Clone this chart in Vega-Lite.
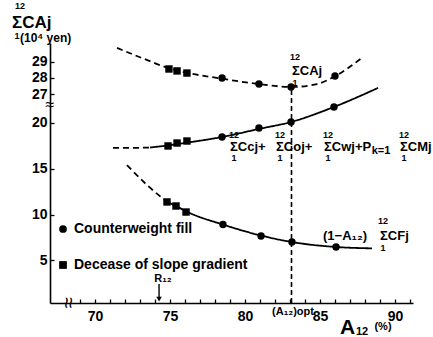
{
  "$schema": "https://vega.github.io/schema/vega-lite/v6.json",
  "width": 363,
  "height": 260,
  "autosize": {"type": "none"},
  "padding": {"left": 50, "top": 43, "right": 20, "bottom": 34},
  "background": "#ffffff",
  "config": {
    "view": {"stroke": null},
    "font": "Liberation Sans",
    "axis": {"domainColor": "#000", "domainWidth": 1.6, "tickColor": "#000", "tickWidth": 1.3, "labelColor": "#000", "labelFont": "Liberation Sans", "labelFontSize": 14, "labelFontWeight": "bold", "grid": false},
    "text": {"font": "Liberation Sans", "fontWeight": "bold", "color": "#000"}
  },
  "datasets": {
    "curves": [
      {"curve": "A", "kind": "estimated", "x": 71.47, "y": 29.85},
      {"curve": "A", "kind": "estimated", "x": 73.2, "y": 29.2},
      {"curve": "A", "kind": "estimated", "x": 74.93, "y": 28.6},
      {"curve": "A", "kind": "estimated", "x": 76.13, "y": 28.32},
      {"curve": "A", "kind": "estimated", "x": 78.47, "y": 27.95},
      {"curve": "A", "kind": "estimated", "x": 80.93, "y": 27.62},
      {"curve": "A", "kind": "estimated", "x": 83.07, "y": 27.44},
      {"curve": "A", "kind": "estimated", "x": 84.8, "y": 27.62},
      {"curve": "A", "kind": "estimated", "x": 86.0, "y": 28.1},
      {"curve": "A", "kind": "estimated", "x": 87.87, "y": 29.29},
      {"curve": "M", "kind": "estimated", "x": 71.2, "y": 17.27},
      {"curve": "M", "kind": "estimated", "x": 72.5, "y": 17.28},
      {"curve": "M", "kind": "estimated", "x": 73.67, "y": 17.32},
      {"curve": "M", "kind": "fitted", "x": 73.67, "y": 17.32},
      {"curve": "M", "kind": "fitted", "x": 74.87, "y": 17.55},
      {"curve": "M", "kind": "fitted", "x": 76.13, "y": 17.85},
      {"curve": "M", "kind": "fitted", "x": 78.47, "y": 18.47},
      {"curve": "M", "kind": "fitted", "x": 80.93, "y": 19.35},
      {"curve": "M", "kind": "fitted", "x": 83.07, "y": 20.11},
      {"curve": "M", "kind": "fitted", "x": 85.93, "y": 21.75},
      {"curve": "M", "kind": "fitted", "x": 88.87, "y": 23.83},
      {"curve": "F", "kind": "estimated", "x": 72.13, "y": 15.4},
      {"curve": "F", "kind": "estimated", "x": 73.47, "y": 13.22},
      {"curve": "F", "kind": "estimated", "x": 74.8, "y": 11.37},
      {"curve": "F", "kind": "fitted", "x": 74.8, "y": 11.37},
      {"curve": "F", "kind": "fitted", "x": 75.4, "y": 10.93},
      {"curve": "F", "kind": "fitted", "x": 76.07, "y": 10.35},
      {"curve": "F", "kind": "fitted", "x": 78.53, "y": 8.9},
      {"curve": "F", "kind": "fitted", "x": 81.07, "y": 7.7},
      {"curve": "F", "kind": "fitted", "x": 83.13, "y": 6.99},
      {"curve": "F", "kind": "fitted", "x": 86.07, "y": 6.45},
      {"curve": "F", "kind": "fitted", "x": 88.47, "y": 6.3}
    ],
    "points": [
      {"curve": "A", "method": "Decease of slope gradient", "x": 74.93, "y": 28.55},
      {"curve": "A", "method": "Decease of slope gradient", "x": 75.47, "y": 28.43},
      {"curve": "A", "method": "Decease of slope gradient", "x": 76.13, "y": 28.3},
      {"curve": "A", "method": "Counterweight fill", "x": 78.47, "y": 27.99},
      {"curve": "A", "method": "Counterweight fill", "x": 80.93, "y": 27.62},
      {"curve": "A", "method": "Counterweight fill", "x": 83.07, "y": 27.44},
      {"curve": "A", "method": "Counterweight fill", "x": 86.0, "y": 28.12},
      {"curve": "M", "method": "Decease of slope gradient", "x": 74.87, "y": 17.49},
      {"curve": "M", "method": "Decease of slope gradient", "x": 75.47, "y": 17.81},
      {"curve": "M", "method": "Decease of slope gradient", "x": 76.13, "y": 18.03},
      {"curve": "M", "method": "Counterweight fill", "x": 78.47, "y": 18.47},
      {"curve": "M", "method": "Counterweight fill", "x": 80.93, "y": 19.45},
      {"curve": "M", "method": "Counterweight fill", "x": 83.07, "y": 20.11},
      {"curve": "M", "method": "Counterweight fill", "x": 85.93, "y": 21.75},
      {"curve": "F", "method": "Decease of slope gradient", "x": 74.8, "y": 11.37},
      {"curve": "F", "method": "Decease of slope gradient", "x": 75.4, "y": 10.93},
      {"curve": "F", "method": "Decease of slope gradient", "x": 76.07, "y": 10.27},
      {"curve": "F", "method": "Counterweight fill", "x": 78.53, "y": 8.9},
      {"curve": "F", "method": "Counterweight fill", "x": 81.07, "y": 7.65},
      {"curve": "F", "method": "Counterweight fill", "x": 83.13, "y": 6.99},
      {"curve": "F", "method": "Counterweight fill", "x": 86.07, "y": 6.45}
    ],
    "notes": [
      {"role": "title", "t": "ΣCAj", "x": 64.47, "y": 30.93},
      {"role": "main", "t": "ΣCAj", "x": 83.13, "y": 25.65},
      {"role": "main", "t": "ΣCcj+", "x": 79.0, "y": 17.38},
      {"role": "main", "t": "ΣCoj+", "x": 82.07, "y": 17.38},
      {"role": "main", "t": "ΣCwj+P", "x": 85.27, "y": 17.38},
      {"role": "main", "t": "ΣCMj", "x": 90.33, "y": 17.38},
      {"role": "main", "t": "(1−A₁₂)", "x": 85.2, "y": 7.65},
      {"role": "main", "t": "ΣCFj", "x": 89.0, "y": 7.65},
      {"role": "unit", "t": "(10⁴ yen)", "x": 65.0, "y": 29.29},
      {"role": "limit", "t": "12", "x": 65.0, "y": 32.75},
      {"role": "limit", "t": "1", "x": 64.8, "y": 29.55},
      {"role": "limit", "t": "12", "x": 83.33, "y": 27.25},
      {"role": "limit", "t": "1", "x": 83.33, "y": 24.35},
      {"role": "limit", "t": "12", "x": 79.27, "y": 18.65},
      {"role": "limit", "t": "12", "x": 82.33, "y": 18.65},
      {"role": "limit", "t": "12", "x": 85.53, "y": 18.65},
      {"role": "limit", "t": "12", "x": 90.6, "y": 18.65},
      {"role": "limit", "t": "1", "x": 79.27, "y": 16.15},
      {"role": "limit", "t": "1", "x": 82.33, "y": 16.15},
      {"role": "limit", "t": "1", "x": 85.53, "y": 16.15},
      {"role": "limit", "t": "1", "x": 90.6, "y": 16.15},
      {"role": "limit", "t": "12", "x": 89.2, "y": 9.3},
      {"role": "limit", "t": "1", "x": 89.2, "y": 6.35},
      {"role": "note", "t": "k=1", "x": 89.07, "y": 16.94},
      {"role": "note", "t": "R₁₂", "x": 74.53, "y": 2.95},
      {"role": "note", "t": "(A₁₂)opt", "x": 83.2, "y": -0.66},
      {"role": "note", "t": "12", "x": 87.8, "y": -2.85},
      {"role": "note", "t": "(%)", "x": 89.2, "y": -2.3},
      {"role": "axisname", "t": "A", "x": 86.33, "y": -2.4}
    ],
    "breaks": [
      {"axis": "y", "t": "≈", "x": 67.0, "y": 21.97},
      {"axis": "x", "t": "≈", "x": 68.2, "y": 0.33}
    ],
    "opt": [{"x": 83.1, "y": 0.33, "y2": 23.93}],
    "arrow": [{"x": 74.27, "y": 2.4, "y2": 0.75}]
  },
  "encoding": {
    "x": {
      "field": "x", "type": "quantitative", "title": null,
      "scale": {"domain": [67, 91.2], "nice": false, "zero": false},
      "axis": {"values": [69,70,71,72,73,74,75,76,77,78,79,80,81,82,83,84,85,86,87,88,89,90,91], "labelExpr": "datum.value % 5 === 0 ? datum.label : ''", "tickSize": -4, "labelPadding": 10, "labelOverlap": false, "labelFlush": false}
    }
  },
  "layer": [
    {
      "encoding": {
        "y": {"field": "y", "type": "quantitative", "title": null,
          "scale": {"domain": [0.33, 28.74], "nice": false, "zero": false},
          "axis": {"orient": "left", "values": [5, 10, 15, 20], "tickSize": -4, "labelPadding": 7}}
      },
      "layer": [
        {
          "data": {"name": "curves"},
          "transform": [{"filter": "datum.curve !== 'A'"}],
          "mark": {"type": "line", "color": "#000", "strokeWidth": 1.8, "interpolate": "monotone"},
          "encoding": {
            "detail": {"field": "curve"},
            "strokeDash": {"field": "kind", "type": "nominal", "scale": {"domain": ["fitted", "estimated"], "range": [[1, 0], [6, 4]]}, "legend": null}
          }
        },
        {
          "data": {"name": "points"},
          "transform": [{"filter": "datum.curve !== 'A'"}],
          "mark": {"type": "point", "filled": true, "color": "#000", "opacity": 1, "size": 55},
          "encoding": {
            "shape": {"field": "method", "type": "nominal",
              "scale": {"domain": ["Counterweight fill", "Decease of slope gradient"], "range": ["circle", "square"]},
              "legend": {"orient": "none", "legendX": 6, "legendY": 179, "title": null, "labelFont": "Liberation Sans", "labelFontSize": 14, "labelFontWeight": "bold", "labelColor": "#000", "labelLimit": 0, "rowPadding": 22, "symbolSize": 60, "symbolFillColor": "#000", "symbolStrokeColor": "#000"}}
          }
        },
        {
          "data": {"name": "opt"},
          "mark": {"type": "rule", "color": "#000", "strokeWidth": 1.6, "strokeDash": [5, 3]},
          "encoding": {"y2": {"field": "y2"}}
        },
        {
          "data": {"name": "arrow"},
          "mark": {"type": "rule", "color": "#000", "strokeWidth": 1.4},
          "encoding": {"y2": {"field": "y2"}}
        },
        {
          "data": {"name": "arrow"},
          "mark": {"type": "point", "shape": "triangle-down", "filled": true, "color": "#000", "opacity": 1, "size": 30},
          "encoding": {"y": {"field": "y2", "type": "quantitative", "scale": {"domain": [0.33, 28.74], "nice": false, "zero": false}}}
        },
        {
          "data": {"name": "notes"},
          "transform": [{"filter": "datum.role === 'title'"}],
          "mark": {"type": "text", "fontSize": 17, "fontWeight": "bold", "align": "left", "baseline": "middle", "color": "#000"},
          "encoding": {"text": {"field": "t"}}
        },
        {
          "data": {"name": "notes"},
          "transform": [{"filter": "datum.role === 'main'"}],
          "mark": {"type": "text", "fontSize": 13, "fontWeight": "bold", "align": "left", "baseline": "middle", "color": "#000"},
          "encoding": {"text": {"field": "t"}}
        },
        {
          "data": {"name": "notes"},
          "transform": [{"filter": "datum.role === 'unit'"}],
          "mark": {"type": "text", "fontSize": 12, "fontWeight": "bold", "align": "left", "baseline": "middle", "color": "#000"},
          "encoding": {"text": {"field": "t"}}
        },
        {
          "data": {"name": "notes"},
          "transform": [{"filter": "datum.role === 'limit'"}],
          "mark": {"type": "text", "fontSize": 9, "fontWeight": "bold", "align": "center", "baseline": "middle", "color": "#000"},
          "encoding": {"text": {"field": "t"}}
        },
        {
          "data": {"name": "notes"},
          "transform": [{"filter": "datum.role === 'note'"}],
          "mark": {"type": "text", "fontSize": 11, "fontWeight": "bold", "align": "center", "baseline": "middle", "color": "#000"},
          "encoding": {"text": {"field": "t"}}
        },
        {
          "data": {"name": "notes"},
          "transform": [{"filter": "datum.role === 'axisname'"}],
          "mark": {"type": "text", "fontSize": 21, "fontWeight": "bold", "align": "left", "baseline": "middle", "color": "#000"},
          "encoding": {"text": {"field": "t"}}
        },
        {
          "data": {"name": "breaks"},
          "transform": [{"filter": "datum.axis === 'y'"}],
          "mark": {"type": "text", "fontSize": 16, "fontWeight": "normal", "align": "center", "baseline": "middle", "color": "#000"},
          "encoding": {"text": {"field": "t"}}
        },
        {
          "data": {"name": "breaks"},
          "transform": [{"filter": "datum.axis === 'x'"}],
          "mark": {"type": "text", "fontSize": 20, "fontWeight": "normal", "angle": 90, "align": "center", "baseline": "middle", "color": "#000"},
          "encoding": {"text": {"field": "t"}}
        }
      ]
    },
    {
      "data": {"name": "curves"},
      "transform": [{"filter": "datum.curve === 'A'"}],
      "encoding": {
        "y": {"field": "y", "type": "quantitative", "title": null,
          "scale": {"domain": [14.105, 30.154], "nice": false, "zero": false},
          "axis": {"orient": "left", "values": [27, 28, 29], "domain": false, "tickSize": -4, "labelPadding": 7}}
      },
      "layer": [
        {
          "mark": {"type": "line", "color": "#000", "strokeWidth": 1.8, "interpolate": "monotone"},
          "encoding": {
            "detail": {"field": "curve"},
            "strokeDash": {"field": "kind", "type": "nominal", "scale": {"domain": ["fitted", "estimated"], "range": [[1, 0], [6, 4]]}, "legend": null}
          }
        },
        {
          "data": {"name": "points"},
          "transform": [{"filter": "datum.curve === 'A'"}],
          "mark": {"type": "point", "filled": true, "color": "#000", "opacity": 1, "size": 55},
          "encoding": {
            "shape": {"field": "method", "type": "nominal",
              "scale": {"domain": ["Counterweight fill", "Decease of slope gradient"], "range": ["circle", "square"]},
              "legend": {"orient": "none", "legendX": 6, "legendY": 179, "title": null, "labelFont": "Liberation Sans", "labelFontSize": 14, "labelFontWeight": "bold", "labelColor": "#000", "labelLimit": 0, "rowPadding": 22, "symbolSize": 60, "symbolFillColor": "#000", "symbolStrokeColor": "#000"}}
          }
        }
      ]
    }
  ],
  "resolve": {"scale": {"y": "independent"}}
}
